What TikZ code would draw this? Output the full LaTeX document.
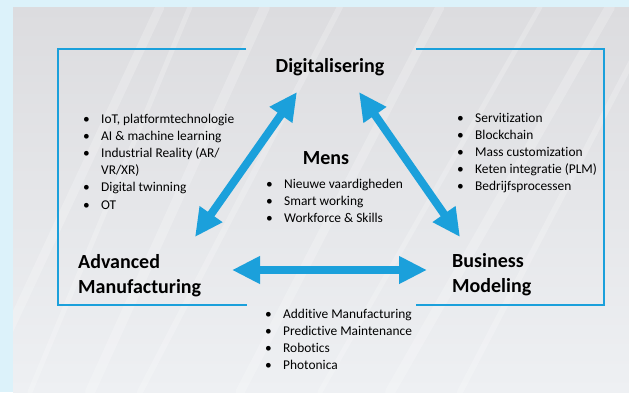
\documentclass[tikz,border=0pt]{standalone}
\usepackage{fontspec}
\setmainfont{Carlito}[Ligatures={NoCommon,NoContextual}]
\usepackage{xcolor}
\usepackage{tikz}
\usetikzlibrary{arrows.meta}
\definecolor{fibreblue}{HTML}{1BA0DB}
\definecolor{skyback}{HTML}{DCF2FA}
\definecolor{panelgrey}{HTML}{DCDCDF}
\definecolor{panellight}{HTML}{EEF0F3}
\tikzset{
  heading/.style={font=\fontsize{20}{25}\selectfont\bfseries, inner sep=0pt},
  itemlist/.style={font=\fontsize{13.4}{17.2}\selectfont, anchor=base west, inner sep=0pt},
  bigarrow/.style={{Triangle[length=28pt,width=26pt]}-{Triangle[length=28pt,width=26pt]}, line width=8pt, fibreblue},
  framepart/.style={fibreblue, line width=2.5pt},
  streak/.style={white, opacity=0.22, line cap=round}
}
\newcommand{\bitem}[1]{\textbullet & #1\\}
\newcommand{\blist}[1]{\begin{tabular}[t]{@{}p{18pt}@{}l@{}}#1\end{tabular}}
\begin{document}
\begin{tikzpicture}[x=1pt,y=-1pt]
        \useasboundingbox (0,0) rectangle (629,392);
        % Background
        \fill[skyback] (0,0) rectangle (629,392);
        \shade[top color=panelgrey, bottom color=panellight] (13,7) rectangle (629,392);
        \begin{scope}
            \clip (13,7) rectangle (629,392);
            \foreach \xa/\xb/\w in {40/120/9, 90/150/5, 150/225/10, 200/300/6,
                                    300/400/9, 380/500/5, 450/570/10, 520/620/6}
                \draw[streak, line width=\w pt] (\xa-60,392) -- (\xb+40,7);
        \end{scope}

        % Frame
        \draw[framepart] (246,49) -- (58,49) -- (58,305) -- (247,305);
        \draw[framepart] (416,49) -- (604,49) -- (604,305) -- (416,305);

        % Headings
        \node[heading, anchor=base] (dig) at (330,72) {Digitalisering};
        \node[heading, anchor=base] (mens) at (326,164) {Mens};
        \node[heading, anchor=base west] (adv) at (78,268)
            {\begin{tabular}[t]{@{}l@{}}Advanced\\Manufacturing\end{tabular}};
        \node[heading, anchor=base west] (bus) at (452,267)
            {\begin{tabular}[t]{@{}l@{}}Business\\Modeling\end{tabular}};

        % Lists
        \node[itemlist] (diglist) at (83,123) {\blist{%
            \bitem{IoT, platformtechnologie}
            \bitem{AI \& machine learning}
            \bitem{Industrial Reality (AR/}
            & VR/XR)\\
            \bitem{Digital twinning}
            \bitem{OT}}};
        \node[itemlist] (buslist) at (457,122) {\blist{%
            \bitem{Servitization}
            \bitem{Blockchain}
            \bitem{Mass customization}
            \bitem{Keten integratie (PLM)}
            \bitem{Bedrijfsprocessen}}};
        \node[itemlist] (menslist) at (266,188) {\blist{%
            \bitem{Nieuwe vaardigheden}
            \bitem{Smart working}
            \bitem{Workforce \& Skills}}};
        \node[itemlist] (advlist) at (265,318) {\blist{%
            \bitem{Additive Manufacturing}
            \bitem{Predictive Maintenance}
            \bitem{Robotics}
            \bitem{Photonica}}};

        % Arrow ends
        \coordinate (digL) at (297,92);
        \coordinate (digR) at (359,92);
        \coordinate (advT) at (195,237);
        \coordinate (advR) at (232,270);
        \coordinate (busT) at (460,237);
        \coordinate (busL) at (427,270);

        % Arrows
        \draw[bigarrow] (advT) -- (digL);
        \draw[bigarrow] (digR) -- (busT);
        \draw[bigarrow] (advR) -- (busL);
    \end{tikzpicture}
\end{document}
